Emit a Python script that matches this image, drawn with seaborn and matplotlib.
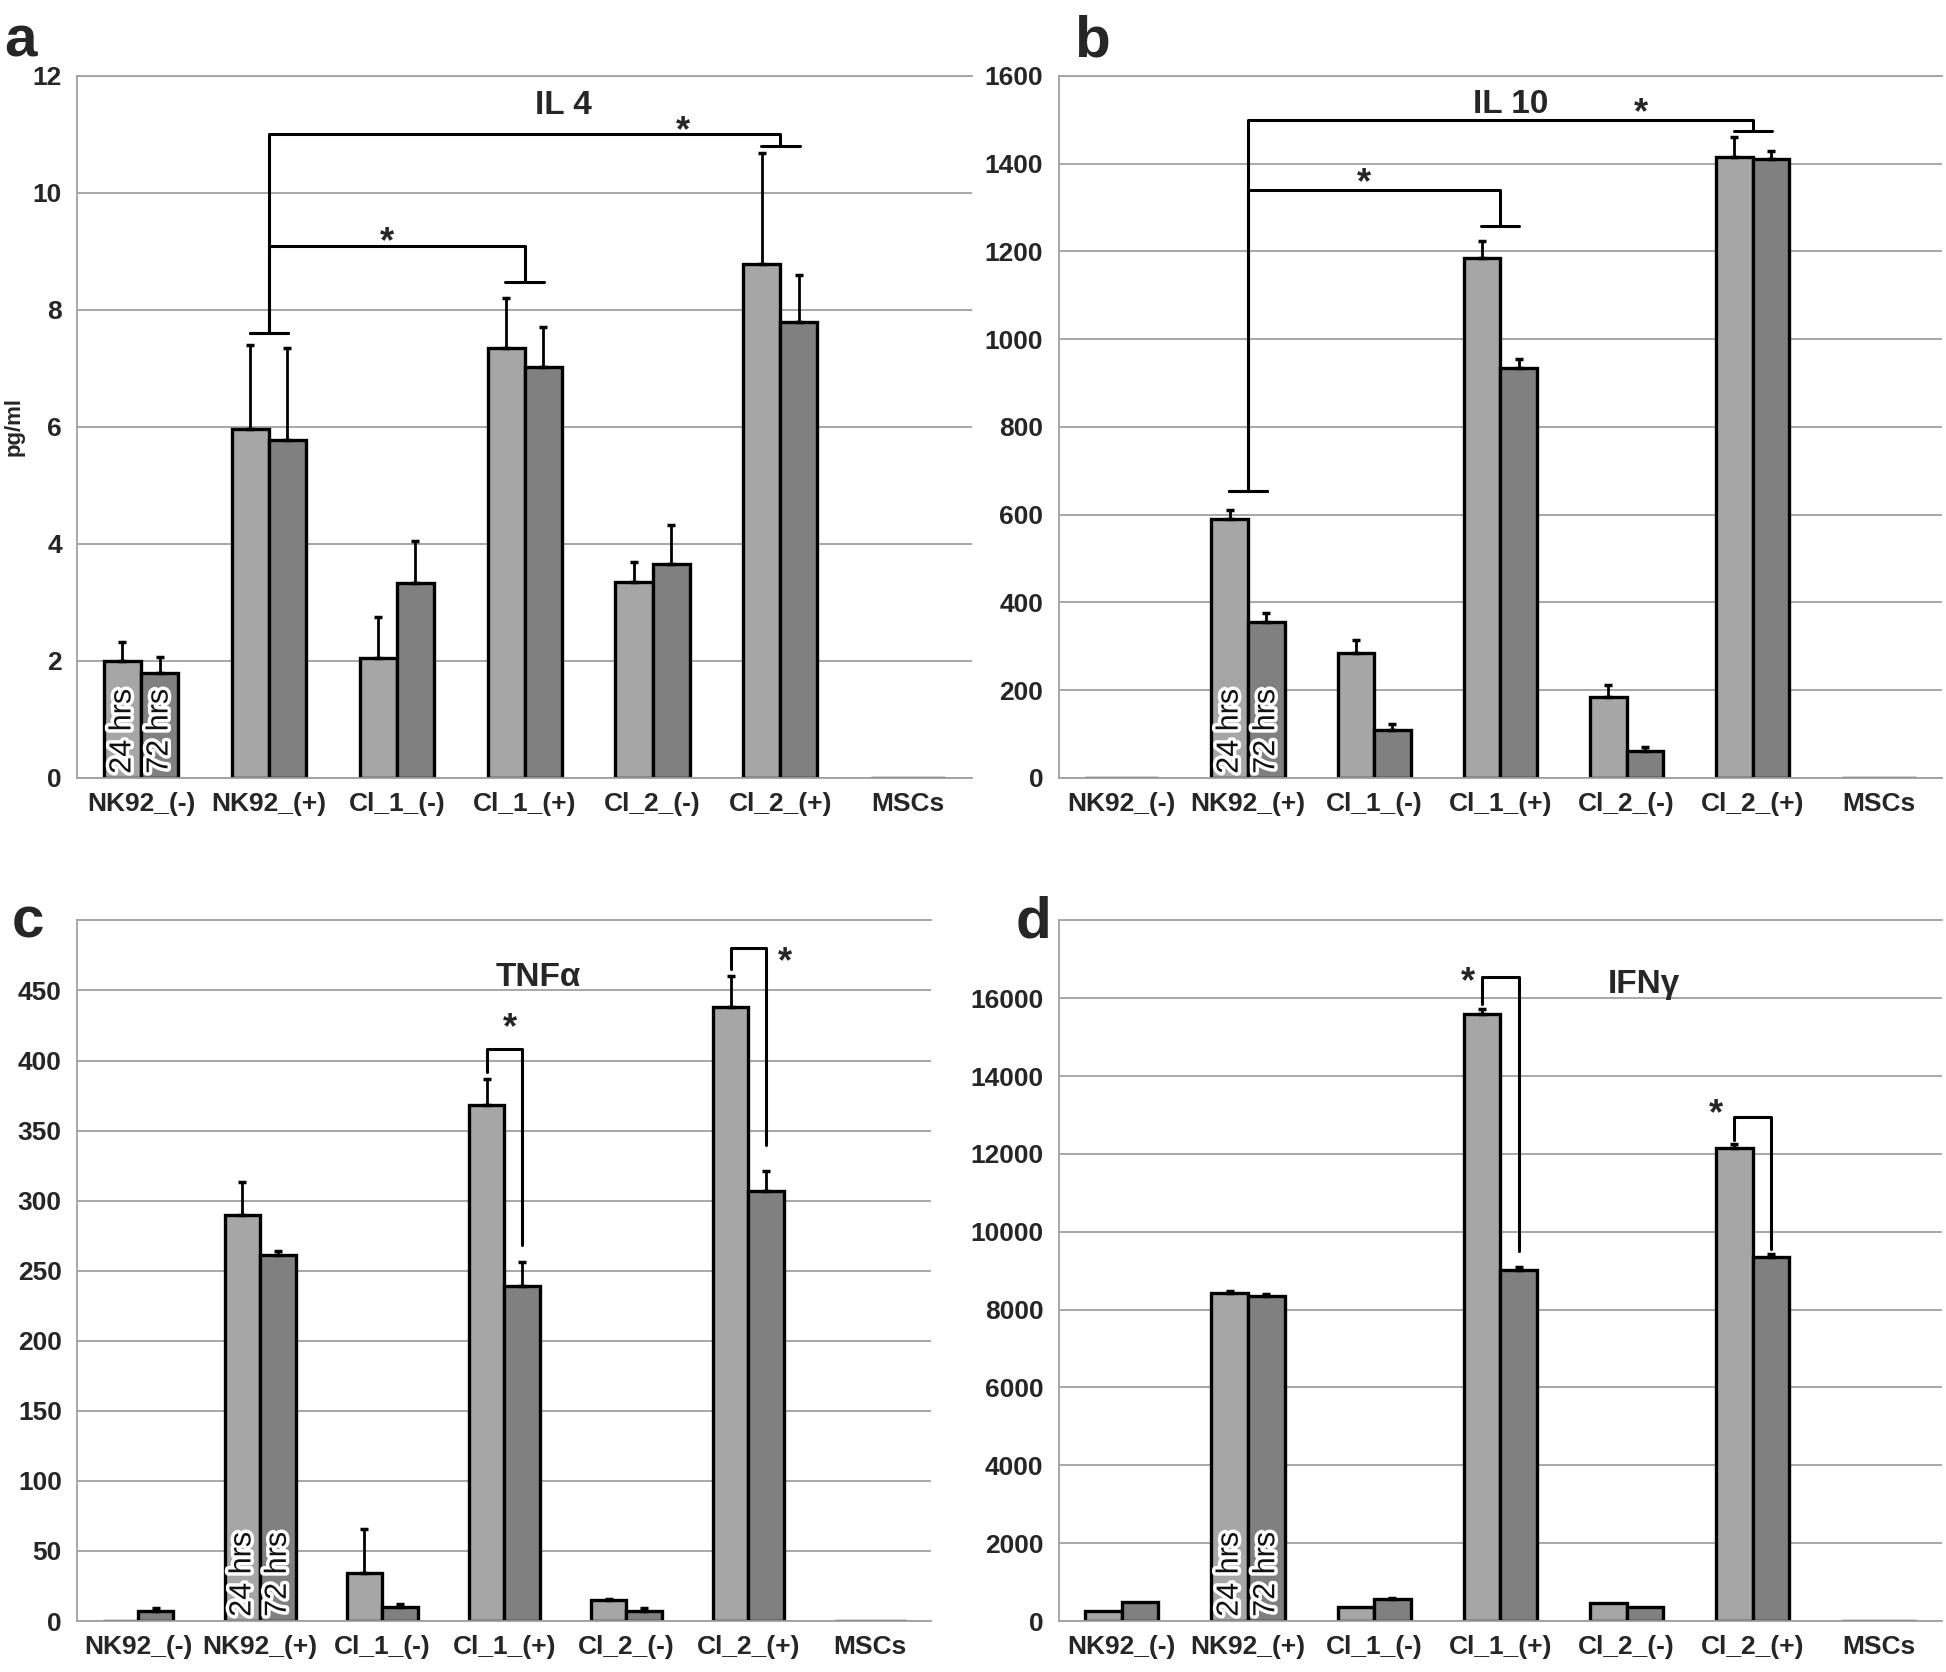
import numpy as np
import pandas as pd
import matplotlib
matplotlib.use('Agg')
import matplotlib.pyplot as plt
import matplotlib.patheffects as pe
import seaborn as sns

# groups and time points
groups = ['NK92_(-)', 'NK92_(+)', 'Cl_1_(-)', 'Cl_1_(+)', 'Cl_2_(-)', 'Cl_2_(+)', 'MSCs']
times = ['24 hrs', '72 hrs']

# IL 4 (pg/ml)
il4_24 = [2.0, 5.97, 2.05, 7.35, 3.35, 8.78, 0]
il4_72 = [1.8, 5.78, 3.33, 7.03, 3.65, 7.8, 0]
il4_err24 = [0.32, 1.43, 0.7, 0.85, 0.35, 1.9, 0]
il4_err72 = [0.27, 1.57, 0.72, 0.67, 0.68, 0.8, 0]

# IL 10
il10_24 = [0, 590, 285, 1185, 185, 1415, 0]
il10_72 = [0, 355, 110, 935, 62, 1410, 0]
il10_err24 = [0, 20, 30, 38, 27, 45, 0]
il10_err72 = [0, 22, 12, 20, 8, 18, 0]

# TNFa
tnf_24 = [0, 290, 34, 368, 15, 438, 0]
tnf_72 = [7, 261, 10, 239, 7, 307, 0]
tnf_err24 = [0, 23, 32, 19, 1, 22, 0]
tnf_err72 = [2, 3, 2, 17, 2, 14, 0]

# IFNg
ifn_24 = [250, 8420, 350, 15600, 470, 12150, 0]
ifn_72 = [490, 8350, 560, 9030, 360, 9350, 0]
ifn_err24 = [0, 50, 0, 120, 0, 100, 0]
ifn_err72 = [0, 60, 40, 60, 0, 90, 0]

light = '#a6a6a6'
dark = '#808080'
gridc = '#a0a0a0'

sns.set_style('white')
plt.rcParams['font.family'] = ['Liberation Sans', 'DejaVu Sans']

fig = plt.figure(figsize=(19.46, 16.72), dpi=100)


def draw_panel(rect, v24, v72, e24, e72, ymax, ystep, ytop_label, title, title_xy, label_group):
    ax = fig.add_axes(rect)
    df = pd.DataFrame({'group': groups * 2,
                       'time': [times[0]] * 7 + [times[1]] * 7,
                       'value': v24 + v72})
    sns.barplot(data=df, x='group', y='value', hue='time', order=groups, hue_order=times,
                palette=[light, dark], saturation=1, width=0.58, edgecolor='black',
                linewidth=2.4, errorbar=None, legend=False, ax=ax)
    bars = sorted(ax.patches, key=lambda p: p.get_x())
    xs = np.array([p.get_x() + p.get_width() / 2 for p in bars])
    hs = np.array([p.get_height() for p in bars])
    errs = np.ravel(np.column_stack([e24, e72]))
    keep = errs > 0
    ax.errorbar(xs[keep], hs[keep], yerr=[np.zeros(keep.sum()), errs[keep]], fmt='none',
                ecolor='black', elinewidth=2, capsize=3, capthick=2.5, zorder=3)

    ax.set_xlim(-0.5, 6.5)
    ax.set_ylim(0, ymax)
    ax.set_yticks(np.arange(0, ytop_label + ystep / 2, ystep))
    ax.yaxis.grid(True, color=gridc, lw=1.3)
    ax.set_axisbelow(True)
    ax.set_xlabel('')
    ax.set_ylabel('')
    ax.set_xticks(range(7))
    ax.set_xticklabels(groups)
    ax.set_xticks(np.arange(-0.5, 7, 1), minor=True)
    ax.tick_params(axis='x', which='major', length=0, pad=10, labelsize=19)
    ax.tick_params(axis='x', which='minor', length=9, width=1.3, color=gridc, direction='out')
    ax.tick_params(axis='y', length=7, width=1.3, color=gridc, direction='out', labelsize=19, pad=4)
    for lab in ax.get_xticklabels() + ax.get_yticklabels():
        lab.set_fontweight('bold')
    for s in ['left', 'bottom', 'top']:
        ax.spines[s].set_color(gridc)
        ax.spines[s].set_linewidth(1.3)
    ax.spines['right'].set_visible(False)

    ax.text(title_xy[0], title_xy[1], title, ha='center', va='center', fontsize=24, fontweight='bold')

    # in-bar time labels
    for k in range(2):
        p = bars[2 * label_group + k]
        ax.text(p.get_x() + p.get_width() / 2, ymax * 0.006, times[k], rotation=90,
                ha='center', va='bottom', fontsize=22, color='#111111', zorder=4,
                path_effects=[pe.withStroke(linewidth=5, foreground='white')])
    return ax, xs


def tee_bracket(ax, x0, ybot0, x1, ybot1, ytop, star_xy):
    # vertical from tee at ybot0 up to ytop, across, down to tee at ybot1
    ax.plot([x0, x0, x1, x1], [ybot0, ytop, ytop, ybot1], color='black', lw=2.2, zorder=5)
    for x, y in [(x0, ybot0), (x1, ybot1)]:
        ax.plot([x - 0.15, x + 0.15], [y, y], color='black', lw=2.2, zorder=5)
    ax.text(star_xy[0], star_xy[1], '*', ha='center', va='center', fontsize=26, fontweight='bold')


def pair_bracket(ax, xl, yl, xr, yr, ytop, star_xy):
    ax.plot([xl, xl, xr, xr], [yl, ytop, ytop, yr], color='black', lw=2.2, zorder=5)
    ax.text(star_xy[0], star_xy[1], '*', ha='center', va='center', fontsize=26, fontweight='bold')


# panel a
ax_a, xs_a = draw_panel([0.0396, 0.5347, 0.460, 0.4199], il4_24, il4_72, il4_err24, il4_err72,
                        12, 2, 12, 'IL 4', (3.3, 11.5), 0)
ax_a.set_ylabel('pg/ml', fontsize=16, fontweight='bold', labelpad=6)
tee_bracket(ax_a, 1, 7.6, 3, 8.48, 9.1, (1.92, 9.15))
tee_bracket(ax_a, 1, 7.6, 5, 10.8, 11.0, (4.24, 11.05))

# panel b
ax_b, xs_b = draw_panel([0.544, 0.5347, 0.454, 0.4199], il10_24, il10_72, il10_err24, il10_err72,
                        1600, 200, 1600, 'IL 10', (3.08, 1534), 1)
tee_bracket(ax_b, 1, 655, 3, 1257, 1340, (1.92, 1355))
tee_bracket(ax_b, 1, 655, 5, 1475, 1500, (4.11, 1515))

# panel c
ax_c, xs_c = draw_panel([0.0396, 0.0305, 0.439, 0.419], tnf_24, tnf_72, tnf_err24, tnf_err72,
                        500, 50, 450, 'TNF\u03b1', (3.28, 459), 1)
pair_bracket(ax_c, xs_c[6], 392, xs_c[7], 268, 408, (3.05, 423))
pair_bracket(ax_c, xs_c[10], 465, xs_c[11], 340, 480, (5.3, 470))

# panel d
ax_d, xs_d = draw_panel([0.544, 0.0305, 0.454, 0.419], ifn_24, ifn_72, ifn_err24, ifn_err72,
                        18000, 2000, 16000, 'IFN\u03b3', (4.14, 16350), 1)
pair_bracket(ax_d, xs_d[6], 15850, xs_d[7], 9500, 16550, (2.74, 16400))
pair_bracket(ax_d, xs_d[10], 12350, xs_d[11], 9550, 12950, (4.71, 13000))

# panel letters
for (x, y), letter in zip([(0.002, 0.975), (0.552, 0.975), (0.006, 0.448), (0.522, 0.448)],
                          ['a', 'b', 'c', 'd']):
    fig.text(x, y, letter, fontsize=42, fontweight='bold', ha='left', va='center')

fig.savefig('out.png', dpi=100)
